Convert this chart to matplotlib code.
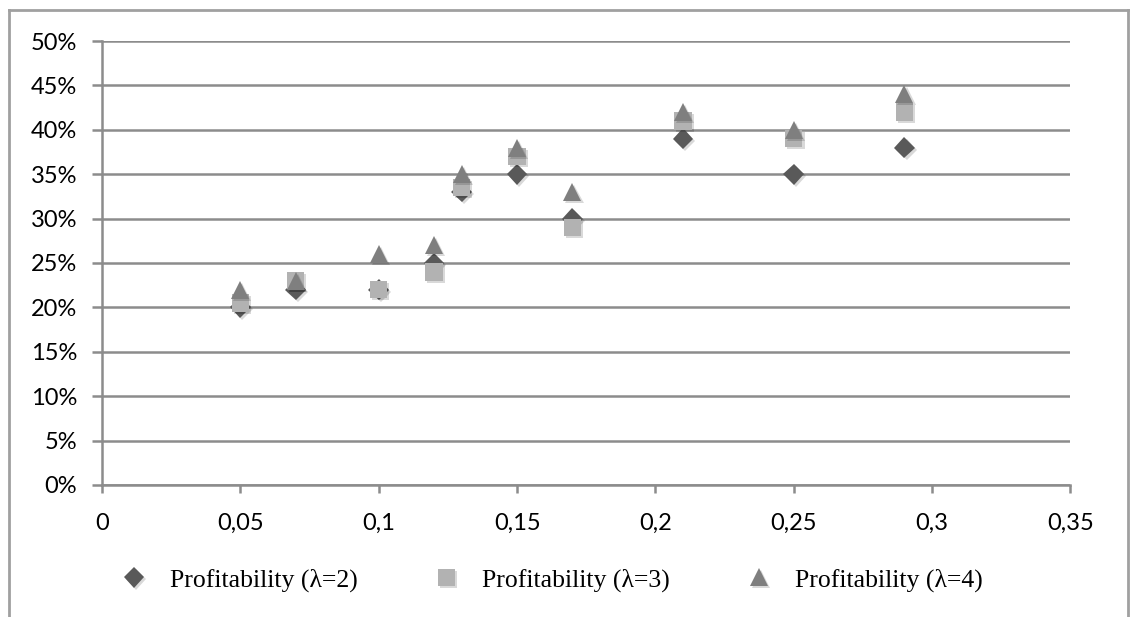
import numpy as np
import matplotlib.pyplot as plt
import matplotlib.patheffects as pe
from matplotlib.lines import Line2D
from matplotlib.ticker import FuncFormatter, MultipleLocator

# ratio values on x, profitability in percent on y
x = [0.05, 0.07, 0.10, 0.12, 0.13, 0.15, 0.17, 0.21, 0.25, 0.29]
prof_l2 = [20, 22, 22, 25, 33, 35, 30, 39, 35, 38]
prof_l3 = [20.5, 23, 22, 24, 33.5, 37, 29, 41, 39, 42]
prof_l4 = [22, 23, 26, 27, 35, 38, 33, 42, 40, 44]

labels = ["Profitability (\u03bb=2)", "Profitability (\u03bb=3)", "Profitability (\u03bb=4)"]

fig = plt.figure(figsize=(11.30, 6.17), dpi=100)
ax = fig.add_axes([0.0903, 0.214, 0.857, 0.7195])

grid_c = "#8c8c8c"
shadow = [pe.SimplePatchShadow(offset=(1.5, -1.5), shadow_rgbFace="#000000", alpha=0.15), pe.Normal()]

styles = [
    (prof_l2, "D", 10.5, "#595959"),
    (prof_l3, "s", 12.5, "#b2b2b2"),
    (prof_l4, "^", 13, "#7f7f7f"),
]
handles = []
for vals, mk, ms, col in styles:
    h, = ax.plot(x, vals, linestyle="none", marker=mk, markersize=ms,
                 markerfacecolor=col, markeredgecolor=col, markeredgewidth=0,
                 path_effects=shadow, zorder=3)
    handles.append(h)

ax.set_xlim(0, 0.35)
ax.set_ylim(0, 50)
ax.xaxis.set_major_locator(MultipleLocator(0.05))
ax.yaxis.set_major_locator(MultipleLocator(5))
ax.xaxis.set_major_formatter(FuncFormatter(lambda v, p: ("%g" % round(v, 2)).replace(".", ",")))
ax.yaxis.set_major_formatter(FuncFormatter(lambda v, p: "%d%%" % round(v)))

ax.grid(axis="y", color=grid_c, linewidth=1.8)
ax.set_axisbelow(True)
for s in ["top", "right"]:
    ax.spines[s].set_visible(False)
for s in ["left", "bottom"]:
    ax.spines[s].set_color(grid_c)
    ax.spines[s].set_linewidth(1.8)
ax.tick_params(axis="both", color=grid_c, width=1.8, direction="out", labelsize=17)
ax.tick_params(axis="y", length=7, pad=11)
ax.tick_params(axis="x", length=6, pad=14)
for lab in ax.get_xticklabels() + ax.get_yticklabels():
    lab.set_fontfamily("Lato")

leg = fig.legend(handles, labels, loc="center left", bbox_to_anchor=(0.0958, 0.06), ncol=3,
                 frameon=False, borderpad=0, handletextpad=0.9, columnspacing=2.95,
                 handlelength=1.0, prop={"family": "Liberation Serif", "size": 18.5})

# outer chart frame
frame_c = "#a0a0a0"
fig.add_artist(Line2D([9 / 1130, 9 / 1130], [0, 1 - 10 / 617], color=frame_c, lw=2))
fig.add_artist(Line2D([9 / 1130, 1128 / 1130], [1 - 10 / 617, 1 - 10 / 617], color=frame_c, lw=2))
fig.add_artist(Line2D([1128 / 1130, 1128 / 1130], [0, 1 - 10 / 617], color=frame_c, lw=2))

fig.savefig("out.png", dpi=100)
